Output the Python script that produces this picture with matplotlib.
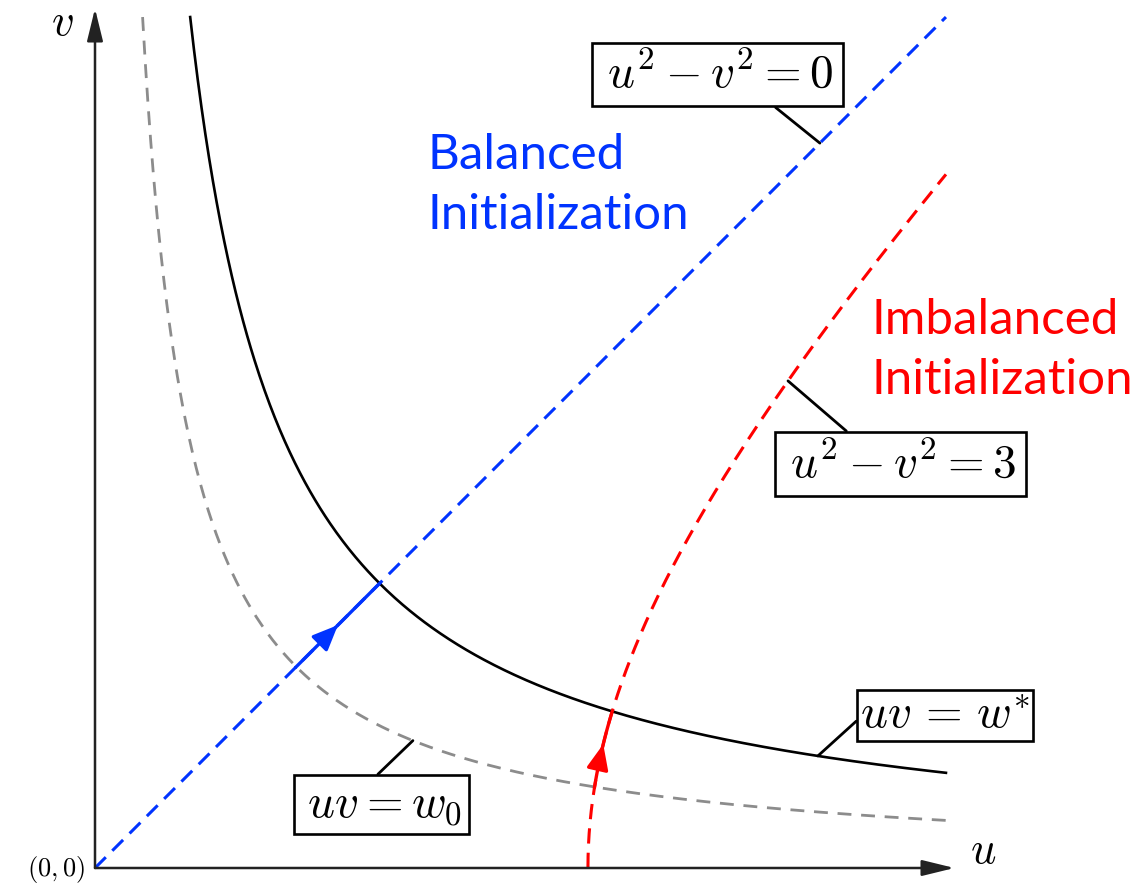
import numpy as np
import matplotlib
matplotlib.use("Agg")
import matplotlib.pyplot as plt

# curve parameters
w_star = 1.0          # uv = w*
w_0 = 0.5             # uv = w0
imbal_c = 3.0         # u^2 - v^2 = 3
u_end = 2.99          # where the curves stop
axis_end = 3.02

eq_labels = [r"$\,u^2 - v^2 = 0\,$", r"$\,u^2 - v^2 = 3\,$",
             r"$uv \,=\, w^{*}$", r"$\,uv = w_0\,$"]
blue_text = "Balanced\nInitialization"
red_text = "Imbalanced\nInitialization"

BLUE = "#0033ff"
RED = "#ff0000"
GRAY = "#8c8c8c"

plt.rcParams['mathtext.fontset'] = 'cm'

S = 284.6  # px per unit
fig = plt.figure(figsize=(11.48, 8.84), dpi=100)
ax = fig.add_axes([0, 0, 1, 1])
ax.set_xlim(-95 / S, (1148 - 95) / S)
ax.set_ylim((868 - 884) / S, 868 / S)
ax.axis('off')

# axes with arrows
arrow_kw = dict(arrowstyle='-|>,head_length=0.9,head_width=0.22', color='#222222',
                lw=1.8, mutation_scale=22, shrinkA=0, shrinkB=0)
ax.annotate('', xy=(axis_end, 0), xytext=(0, 0), arrowprops=arrow_kw)
ax.annotate('', xy=(0, axis_end), xytext=(0, 0), arrowprops=arrow_kw)
ax.text(3.12, 0.06, r"$u$", fontsize=32, ha='center', va='center')
ax.text(-0.115, 2.97, r"$v$", fontsize=32, ha='center', va='center')
ax.text(-0.035, -0.005, r"$(0,0)$", fontsize=19, ha='right', va='center')

# balanced line u = v
ub = np.linspace(0, u_end, 50)
ax.plot(ub, ub, color=BLUE, lw=2.2, dashes=(5, 3))

# imbalanced hyperbola u^2 - v^2 = 3
vr = np.linspace(0, np.sqrt(u_end**2 - imbal_c), 300)
ur = np.sqrt(imbal_c + vr**2)
ax.plot(ur, vr, color=RED, lw=2.2, dashes=(5, 3))

# uv = w0 (gray dashed) and uv = w* (black)
ug = np.linspace(w_0 / u_end, u_end, 600)
ax.plot(ug, w_0 / ug, color=GRAY, lw=2.0, dashes=(5, 3.5))
uk = np.linspace(w_star / u_end, u_end, 600)
ax.plot(uk, w_star / uk, color='black', lw=1.9)

# trajectories
p0 = np.sqrt(w_0)
p1 = np.sqrt(w_star)
ax.plot([p0, p1], [p0, p1], color=BLUE, lw=2.4)
pm = (p0 + p1) / 2
head = dict(arrowstyle='-|>,head_length=0.7,head_width=0.3', lw=2.4,
            mutation_scale=22, shrinkA=0, shrinkB=0)
ax.annotate('', xy=(pm, pm), xytext=(pm - 0.05, pm - 0.05),
            arrowprops=dict(color=BLUE, **head))


def red_point(w):
    u2 = (imbal_c + np.sqrt(imbal_c**2 + 4 * w**2)) / 2
    return np.sqrt(u2), w / np.sqrt(u2)


r0 = red_point(w_0)
r1 = red_point(w_star)
rv = np.linspace(r0[1], r1[1], 30)
ax.plot(np.sqrt(imbal_c + rv**2), rv, color=RED, lw=2.4)
vm = 0.435
ax.annotate('', xy=(np.sqrt(imbal_c + vm**2), vm),
            xytext=(np.sqrt(imbal_c + (vm - 0.06)**2), vm - 0.06),
            arrowprops=dict(color=RED, **head))

# labelled boxes with leader lines
box = dict(boxstyle='square,pad=0.2', fc='white', ec='black', lw=1.9)
lead = dict(arrowstyle='-', color='black', lw=2.0, shrinkA=0, shrinkB=0)

ax.annotate(eq_labels[0], xy=(2.547, 2.547), xytext=(2.187, 2.788),
            fontsize=34, ha='center', va='center', bbox=box,
            arrowprops=dict(relpos=(0.695, 0), **lead))
ax.annotate(eq_labels[1], xy=(2.435, np.sqrt(2.435**2 - imbal_c)), xytext=(2.829, 1.42),
            fontsize=34, ha='center', va='center', bbox=box,
            arrowprops=dict(relpos=(0.32, 1), **lead))
ax.annotate(eq_labels[2], xy=(2.54, w_star / 2.54), xytext=(2.987, 0.536),
            fontsize=34, ha='center', va='center',
            bbox=dict(boxstyle='square,pad=0.06', fc='white', ec='black', lw=1.9),
            arrowprops=dict(relpos=(0, 0.45), **lead))
ax.annotate(eq_labels[3], xy=(1.117, w_0 / 1.117), xytext=(1.007, 0.222),
            fontsize=34, ha='center', va='center',
            bbox=dict(boxstyle='square,pad=0.15', fc='white', ec='black', lw=1.9),
            arrowprops=dict(relpos=(0.425, 1), **lead))

# region labels
ax.text((427 - 95) / S, (868 - 133) / S, blue_text, color=BLUE, fontsize=35.5,
        family='Lato', ha='left', va='top', linespacing=1.45)
ax.text((872 - 95) / S, (868 - 298) / S, red_text, color=RED, fontsize=35.5,
        family='Lato', ha='left', va='top', linespacing=1.45)

fig.savefig('out.png', dpi=100)
